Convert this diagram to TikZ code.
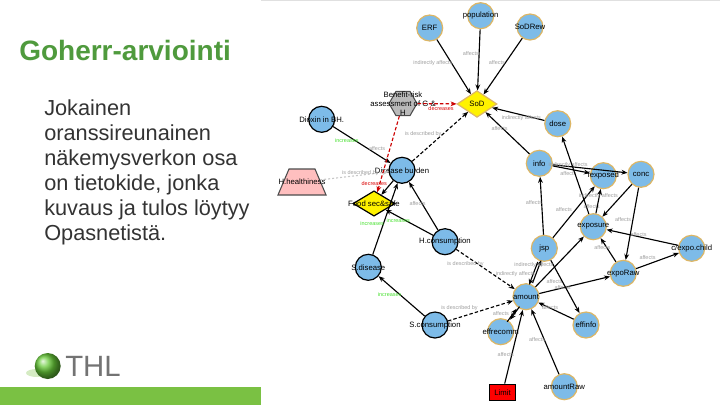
\documentclass[tikz,border=0pt]{standalone}
\usepackage{fontspec}
\setmainfont{Liberation Sans}
\usetikzlibrary{arrows.meta,shapes.geometric}
\definecolor{Sky}{HTML}{7DBBE8}
\definecolor{Gold}{HTML}{DDB665}
\definecolor{Leaf}{HTML}{7AC143}
\definecolor{Title}{HTML}{4F9A3D}
\definecolor{Bright}{HTML}{44E02C}

\begin{document}
\begin{tikzpicture}[x=.75pt,y=-.75pt,>={Stealth[length=4.5pt,width=3.6pt]},
    vtext/.style={font=\fontsize{5.8}{6.6}\selectfont,align=center,inner sep=0pt},
    txt/.style={label={[vtext]center:#1}},
    var/.style={circle,draw=Gold,fill=Sky,line width=.9pt,minimum size=19.5pt,inner sep=0pt},
    outer/.style={var,draw=black},
    elabel/.style={font=\fontsize{4.1}{5}\selectfont,text=black!38,inner sep=0pt},
    glabel/.style={elabel,text=Bright},
    rlabel/.style={elabel,text=red!85!black},
    link/.style={->,black,line width=.85pt},
    dlink/.style={link,dash pattern=on 2.6pt off 1.6pt},
    rlink/.style={dlink,red!80!black}]
    \useasboundingbox (0,0) rectangle (720,405);
    \draw[black!12] (261,0)--(720,0);
    \fill[Leaf] (0,387) rectangle (261,405);
    \node[font=\bfseries\fontsize{21}{23}\selectfont,text=Title,anchor=west,inner sep=0pt] (title) at (19,50) {Goherr-arviointi};
    \node[font=\fontsize{16.3}{18.75}\selectfont,text=black!80,align=left,anchor=north west,inner sep=0pt] (body) at (44,99) {Jokainen\\oranssireunainen\\näkemysverkon osa\\on tietokide, jonka\\kuvaus ja tulos löytyy\\Opasnetistä.};
    \fill[Leaf!45,opacity=.7] (37,373) ellipse (11 and 4);
    \shade[ball color=Leaf!85!green] (47.7,366) circle (13);
    \node[font=\fontsize{22}{24}\selectfont,text=black!55,anchor=west,inner sep=0pt] (thl) at (65,366) {THL};

    \node[var,txt=ERF] (erf) at (429.7,28) {};
    \node[var,txt=population] (population) at (480.7,15.7) {};
    \node[var,txt=SoDRew] (sodrew) at (530,27) {};
    \node[diamond,draw=Gold,fill=yellow,line width=.9pt,minimum width=30pt,minimum height=20pt,inner sep=1pt,txt=SoD] (sod) at (477,104) {};
    \node[regular polygon,regular polygon sides=6,draw=black!70,fill=black!27,line width=.8pt,minimum size=21pt,inner sep=1pt,txt={Benefit-risk\\assessment of G \&\\H}] (brisk) at (403,103.5) {};
    \node[outer,txt={Dioxin in BH.}] (dioxin) at (321.7,119.3) {};
    \node[var,txt=dose] (dose) at (557.7,123.7) {};
    \node[var,txt=info] (info) at (539.3,163.3) {};
    \node[var,txt=fexposed] (fexposed) at (603.3,175.7) {};
    \node[var,txt=conc] (conc) at (641,174.3) {};
    \node[outer,txt={Disease burden}] (burden) at (402,170.3) {};
    \node[trapezium,trapezium angle=67,draw=black!70,fill=pink,line width=.8pt,minimum width=31.5pt,minimum height=19.5pt,inner sep=1pt,txt=H.healthiness] (healthy) at (302,182) {};
    \node[diamond,draw=black,fill=yellow,line width=.9pt,minimum width=31.5pt,minimum height=19pt,inner sep=1pt,txt=Food sec\&safe] (food) at (374,203.5) {};
    \node[var,txt=exposure] (exposure) at (593.3,226.7) {};
    \node[var,txt=jsp] (jsp) at (544.3,248.3) {};
    \node[outer,txt=H.consumption] (hcons) at (445,241.7) {};
    \node[outer,txt=S.disease] (sdisease) at (368.3,267.3) {};
    \node[var,txt=expoRaw] (exporaw) at (623.3,273.3) {};
    \node[var,txt=c/expo.child] (child) at (691.7,248.3) {};
    \node[var,txt=amount] (amount) at (526,296.7) {};
    \node[outer,txt=S.consumption] (scons) at (435,325) {};
    \node[var,txt=effrecomm] (effrecomm) at (500.7,331.7) {};
    \node[var,txt=effinfo] (effinfo) at (586,325) {};
    \node[rectangle,draw=black,fill=red,line width=.9pt,minimum width=20pt,minimum height=12.5pt,inner sep=0pt,txt=Limit] (limit) at (502.5,392.5) {};
    \node[var,txt=amountRaw] (amountraw) at (564.3,386.7) {};

    \foreach \u/\v/\t/\dx/\dy in {erf/sod/indirectly affects/-21/-4,population/sod/affects/-8/-6,sodrew/sod/affects/-6/-4,
      dose/sod/indirectly affects/3/4,info/sod/affects/-8/-4,info/conc/indirectly affects/-22/-4,info/fexposed/affects/-3/4,
      jsp/info/affects/-8/-3,jsp/fexposed/affects/-10/-2,exposure/dose/affects/16/31,exposure/fexposed/indirectly affects/0/-5,
      conc/exposure/affects/6/19,child/exposure/affects/-4/-3,exporaw/exposure/affects/-6/-2,exporaw/child/affects/-10/-3,
      amount/exposure/affects/-5/20,amount/exporaw/affects/-12/3,effinfo/amount/affects/-6/-3,limit/amount/affects/-8/8,
      amountraw/amount/affects/-8/-2,hcons/burden/affects/-6/-2}
      \draw[link] (\u)--(\v) node[elabel,midway,shift={(\dx,\dy)}] (\u-\v) {\t};
    \foreach \u/\v in {conc/exporaw,jsp/effinfo,burden/food}\draw[link] (\u)--(\v);
    \draw[link,transform canvas={xshift=-1.3pt,yshift=-.7pt}] (jsp)--(amount) node[elabel,midway,shift={(-18,1)}] (jsp-amount) {indirectly affects};
    \draw[link,transform canvas={xshift=1.3pt,yshift=.7pt}] (amount)--(jsp) node[elabel,midway,shift={(-3,-6)}] (amount-jsp) {indirectly affects};
    \draw[link,transform canvas={xshift=-1.1pt,yshift=-.8pt}] (effrecomm)--(amount) node[elabel,midway,shift={(-11,-2)}] (effrecomm-amount) {affects};
    \draw[link,transform canvas={xshift=1.1pt,yshift=.8pt}] (amount)--(effrecomm);
    \foreach \u/\v/\t/\dx/\dy in {burden/sod/is described by/-17/-3,hcons/amount/is described by/-20/-5,scons/amount/is described by/-21/-3}
      \draw[dlink] (\u)--(\v) node[elabel,midway,shift={(\dx,\dy)}] (\u-\v) {\t};
    \draw[dlink,black!22,dash pattern=on 1.5pt off 1.5pt] (healthy)--(burden) node[elabel,midway,shift={(6,-3)}] (healthy-burden) {is described by};
    \foreach \u/\v/\t/\dx/\dy in {dioxin/burden/increases/-15/-4,sdisease/burden/increases/-13/5,hcons/food/increases/-11/-2,scons/sdisease/increases/-12/-2}
      \draw[link] (\u)--(\v) node[glabel,midway,shift={(\dx,\dy)}] (\u-\v) {\t};
    \node[elabel] (dioxin-affects) at (377,149) {affects};
    \foreach \u/\v/\dx/\dy in {brisk/sod/4/5,brisk/food/-14/29}
      \draw[rlink] (\u)--(\v) node[rlabel,midway,shift={(\dx,\dy)}] (\u-\v) {decreases};
  \end{tikzpicture}
\end{document}
